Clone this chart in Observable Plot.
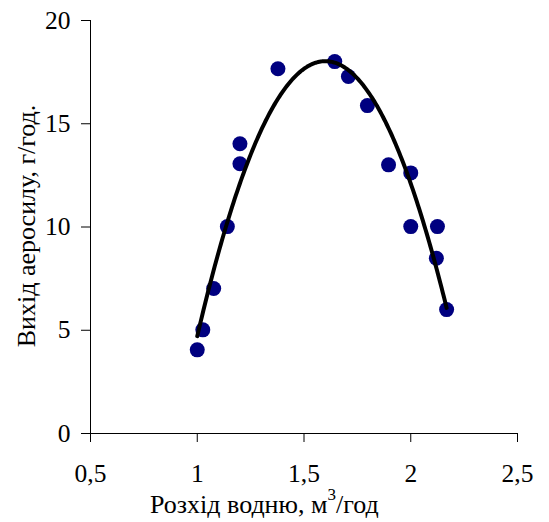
<!DOCTYPE html>
<html>
<head>
<meta charset="utf-8">
<script src="https://cdn.jsdelivr.net/npm/d3@7"></script>
<script src="https://cdn.jsdelivr.net/npm/@observablehq/plot@0.6"></script>
<style>
  html, body { margin: 0; padding: 0; background: white; }
</style>
</head>
<body>
<div id="chart"></div>
<script>
// Water flow rate, m³/h
const waterFlow = [1.0, 1.026, 1.077, 1.141, 1.2, 1.2, 1.378, 1.644, 1.708, 1.797, 1.896, 2.0, 2.0, 2.125, 2.12, 2.168];
// Aerosil yield, g/h
const aerosilYield = [4.05, 5.02, 7.02, 10.02, 13.06, 14.03, 17.66, 18.01, 17.29, 15.88, 13.01, 12.62, 10.02, 10.02, 8.49, 6.0];
const xTicks = [0.5, 1, 1.5, 2, 2.5];
const yTicks = [0, 5, 10, 15, 20];
const xLabel = "Розхід водню, м";
const xLabelSup = "3";
const xLabelEnd = "/год";
const yLabel = "Вихід аеросилу, г/год.";

const points = waterFlow.map((x, i) => ({x, y: aerosilYield[i]}));

// 2nd-order polynomial trendline (least squares), as in the source spreadsheet
function polyFit2(xs, ys) {
  const S = k => d3.sum(xs, x => Math.pow(x, k));
  const T = k => d3.sum(xs, (x, i) => Math.pow(x, k) * ys[i]);
  const A = [[S(0), S(1), S(2), T(0)], [S(1), S(2), S(3), T(1)], [S(2), S(3), S(4), T(2)]];
  for (let i = 0; i < 3; i++) {
    for (let j = i + 1; j < 3; j++) {
      const f = A[j][i] / A[i][i];
      for (let k = i; k < 4; k++) A[j][k] -= f * A[i][k];
    }
  }
  const c = [0, 0, 0];
  for (let i = 2; i >= 0; i--) {
    let s = A[i][3];
    for (let k = i + 1; k < 3; k++) s -= A[i][k] * c[k];
    c[i] = s / A[i][i];
  }
  return c;
}
const coef = polyFit2(waterFlow, aerosilYield);
const [xMin, xMax] = d3.extent(waterFlow);
const trend = d3.range(0, 201).map(i => {
  const x = xMin + (xMax - xMin) * i / 200;
  return {x, y: coef[0] + coef[1] * x + coef[2] * x * x};
});

const fmt = d => String(d).replace(".", ",");
const FONT = "Liberation Serif";

const chart = Plot.plot({
  width: 549,
  height: 522,
  marginLeft: 90,
  marginRight: 32,
  marginTop: 20,
  marginBottom: 89,
  style: {fontFamily: FONT, fontSize: "25.5px", color: "black", background: "white"},
  x: {domain: [0.5, 2.5]},
  y: {domain: [0, 20]},
  marks: [
    Plot.axisX({ticks: xTicks, tickSize: 9, tickPadding: 21, tickFormat: fmt, label: null, stroke: "black"}),
    Plot.axisY({ticks: yTicks, tickSize: 9, tickPadding: 11, tickFormat: fmt, label: null, stroke: "black"}),
    Plot.ruleX([0.5], {stroke: "black", strokeWidth: 1}),
    Plot.ruleY([0], {stroke: "black", strokeWidth: 1}),
    Plot.dot(points, {x: "x", y: "y", r: 7.5, fill: "#000080", stroke: "none"}),
    Plot.line(trend, {x: "x", y: "y", stroke: "black", strokeWidth: 4})
  ]
});

const ns = "http://www.w3.org/2000/svg";
// x axis title with superscript
const xt = document.createElementNS(ns, "text");
xt.setAttribute("x", 150);
xt.setAttribute("y", 513);
xt.setAttribute("text-anchor", "start");
xt.setAttribute("font-size", "26");
xt.setAttribute("fill", "black");
const t1 = document.createElementNS(ns, "tspan"); t1.textContent = xLabel;
const t2 = document.createElementNS(ns, "tspan"); t2.textContent = xLabelSup;
t2.setAttribute("font-size", "17"); t2.setAttribute("dy", "-13");
const t3 = document.createElementNS(ns, "tspan"); t3.textContent = xLabelEnd;
t3.setAttribute("dy", "13");
xt.append(t1, t2, t3);
chart.appendChild(xt);
// y axis title
const yt = document.createElementNS(ns, "text");
yt.setAttribute("transform", "translate(35,226) rotate(-90)");
yt.setAttribute("text-anchor", "middle");
yt.setAttribute("font-size", "26");
yt.setAttribute("fill", "black");
yt.textContent = yLabel;
chart.appendChild(yt);

chart.querySelectorAll("text").forEach(el => { el.style.fontVariant = "normal"; });

document.getElementById("chart").appendChild(chart);
</script>
</body>
</html>
